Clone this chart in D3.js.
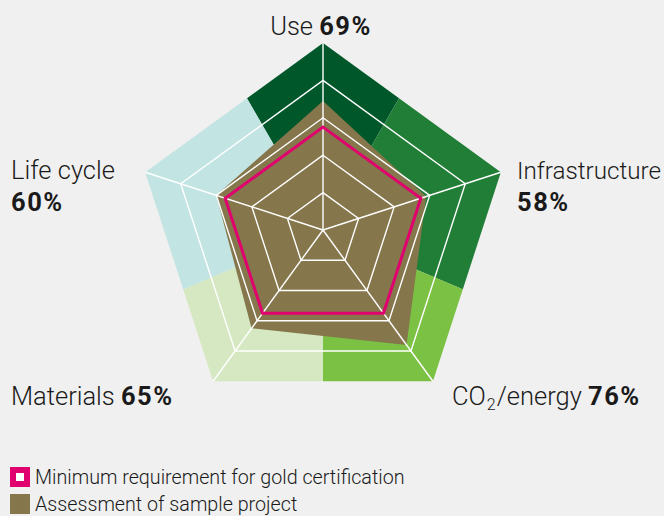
<!DOCTYPE html>
<html>
<head>
<meta charset="utf-8">
<script src="https://cdn.jsdelivr.net/npm/d3@7"></script>
<style>
    html, body { margin: 0; padding: 0; background: #f0f0f0; }
    #chart { width: 664px; height: 516px; }
    text { font-family: Roboto, "Liberation Sans", sans-serif; font-weight: 300; fill: #1a1a1a; }
    .val { font-weight: 700; letter-spacing: 1.5px; }
</style>
</head>
<body>
<div id="chart"></div>
<script>
// axes of the radar, clockwise from the top
const categories = ['Use', 'Infrastructure', 'CO2/energy', 'Materials', 'Life cycle'];
const assessment = [69, 58, 76, 65, 60];
const goldMinimum = [55, 55, 55, 55, 55];
const gridLevels = [20, 40, 60, 80, 100];
// background sector borders (degrees clockwise from top), one sector per category
const sectorEdges = [-30, 30, 113, 180, 247, 330];
const sectorColors = ['#00582a', '#217e37', '#7bc143', '#d5e8c1', '#c2e4e2'];
const legendItems = ['Minimum requirement for gold certification', 'Assessment of sample project'];

const width = 664, height = 516;
const cx = 323, cy = 230, radius = 187;

let svg = d3.select('#chart').append('svg')
    .attr('width', width)
    .attr('height', height);

let g = svg.append('g').attr('transform', 'translate(' + cx + ',' + cy + ')');

let r = d3.scaleLinear().domain([0, 100]).range([0, radius]);
let angle = d3.scaleBand().domain(categories).range([0, 2 * Math.PI]);

function point(cat, v) {
    const a = angle(cat);
    return [r(v) * Math.sin(a), -r(v) * Math.cos(a)];
}

let ring = d3.line().curve(d3.curveLinearClosed);

// clip to outer pentagon
svg.append('defs').append('clipPath').attr('id', 'outer')
    .append('path')
    .attr('d', ring(categories.map(c => point(c, 100))));

// coloured sectors
let arc = d3.arc().innerRadius(0).outerRadius(radius * 2);
g.append('g')
    .attr('clip-path', 'url(#outer)')
    .selectAll('path')
    .data(sectorColors)
    .enter().append('path')
    .attr('d', (d, i) => arc({
        startAngle: sectorEdges[i] * Math.PI / 180,
        endAngle: sectorEdges[i + 1] * Math.PI / 180
    }))
    .attr('fill', d => d);

// assessment area
g.append('path')
    .attr('d', ring(categories.map((c, i) => point(c, assessment[i]))))
    .attr('fill', '#85764b');

// grid rings (the outer one is the colour edge)
g.append('g').selectAll('path')
    .data(gridLevels.filter(l => l < 100))
    .enter().append('path')
    .attr('d', l => ring(categories.map(c => point(c, l))))
    .attr('fill', 'none')
    .attr('stroke', '#fff')
    .attr('stroke-width', 1.4);

// spokes
g.append('g').selectAll('line')
    .data(categories)
    .enter().append('line')
    .attr('x1', 0).attr('y1', 0)
    .attr('x2', c => point(c, 100)[0])
    .attr('y2', c => point(c, 100)[1])
    .attr('stroke', '#fff')
    .attr('stroke-width', 1.4);

// gold minimum line
g.append('path')
    .attr('d', ring(categories.map((c, i) => point(c, goldMinimum[i]))))
    .attr('fill', 'none')
    .attr('stroke', '#e0006e')
    .attr('stroke-width', 3)
    .attr('stroke-linejoin', 'miter');

// axis labels
const labelPos = [
    {x: 321, y: 35, anchor: 'middle', wrap: false},
    {x: 517, y: 179, anchor: 'start', wrap: true, fit: 144},
    {x: 452, y: 405, anchor: 'start', wrap: false},
    {x: 11, y: 405, anchor: 'start', wrap: false},
    {x: 11, y: 179, anchor: 'start', wrap: true}
];

categories.forEach((c, i) => {
    const p = labelPos[i];
    let t = svg.append('text')
        .attr('x', p.x).attr('y', p.y)
        .attr('text-anchor', p.anchor)
        .attr('font-size', 25.5);
    if (c === 'CO2/energy') {
        t.append('tspan').text('CO');
        t.append('tspan').text('2').attr('font-size', 16).attr('dy', 5).attr('dx', 1);
        t.append('tspan').text('/energy ').attr('dy', -5).attr('dx', 1);
    } else {
        let n = t.append('tspan').text(c + (p.wrap ? '' : ' '));
        if (p.fit) n.attr('font-size', 24).attr('textLength', p.fit).attr('lengthAdjust', 'spacingAndGlyphs');
    }
    let v = t.append('tspan').attr('class', 'val').text(assessment[i] + '%');
    if (p.wrap) v.attr('x', p.x).attr('dy', 32);
});

// legend
let legend = svg.append('g').attr('transform', 'translate(10,467)');
legend.append('rect')
    .attr('x', 3).attr('y', 3).attr('width', 14).attr('height', 14)
    .attr('fill', '#fff').attr('stroke', '#e0006e').attr('stroke-width', 6);
legend.append('rect')
    .attr('x', 0).attr('y', 27).attr('width', 20).attr('height', 20)
    .attr('fill', '#85764b');
legend.selectAll('text.leg')
    .data(legendItems)
    .enter().append('text')
    .attr('class', 'leg')
    .attr('x', 25)
    .attr('y', (d, i) => 17 + i * 27)
    .attr('font-size', 19.7)
    .text(d => d);
</script>
</body>
</html>
